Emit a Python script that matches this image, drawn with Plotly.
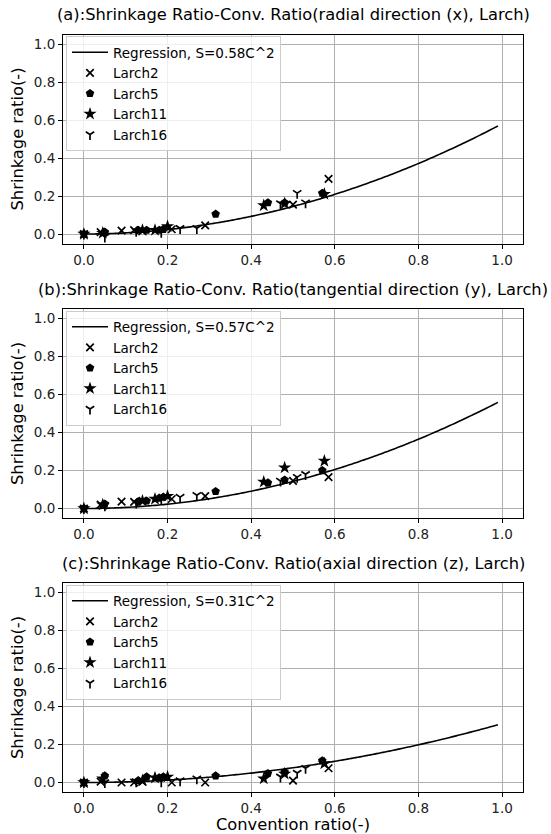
import numpy as np
import plotly.graph_objects as go

FONT = "DejaVu Sans"

titles = [
    "(a):Shrinkage Ratio-Conv. Ratio(radial direction (x), Larch)",
    "(b):Shrinkage Ratio-Conv. Ratio(tangential direction (y), Larch)",
    "(c):Shrinkage Ratio-Conv. Ratio(axial direction (z), Larch)",
]
reg_coef = [0.58, 0.57, 0.31]
reg_x = [i / 100 for i in range(100)]

series_names = ["Larch2", "Larch5", "Larch11", "Larch16"]

larch2_x = [0, 0.04, 0.09, 0.12, 0.14, 0.21, 0.29, 0.50, 0.585]
larch2_y = [
    [0, 0.01, 0.018, 0.02, 0.015, 0.025, 0.045, 0.155, 0.29],
    [0, 0.02, 0.036, 0.035, 0.04, 0.05, 0.065, 0.145, 0.165],
    [0, 0.005, 0.0, 0.0, 0.005, 0.0, 0.0, 0.01, 0.075],
]
larch5_x = [0, 0.05, 0.13, 0.15, 0.18, 0.19, 0.315, 0.44, 0.48, 0.57]
larch5_y = [
    [0, 0.01, 0.02, 0.02, 0.02, 0.025, 0.105, 0.165, 0.165, 0.215],
    [0, 0.024, 0.035, 0.04, 0.055, 0.06, 0.09, 0.135, 0.15, 0.2],
    [0, 0.035, 0.01, 0.03, 0.025, 0.03, 0.035, 0.048, 0.055, 0.115],
]
larch11_x = [0, 0.045, 0.14, 0.17, 0.2, 0.43, 0.48, 0.575]
larch11_y = [
    [0, 0.005, 0.02, 0.02, 0.04, 0.15, 0.16, 0.21],
    [0, 0.02, 0.04, 0.05, 0.065, 0.14, 0.215, 0.25],
    [0, 0.02, 0.01, 0.025, 0.03, 0.02, 0.045, 0.1],
]
larch16_x = [0, 0.05, 0.125, 0.185, 0.23, 0.27, 0.47, 0.51, 0.53]
larch16_y = [
    [0, -0.015, 0.015, 0.01, 0.03, 0.03, 0.16, 0.215, 0.165],
    [0, 0.015, 0.03, 0.05, 0.06, 0.07, 0.145, 0.165, 0.18],
    [0, 0.0, 0.005, 0.005, 0.01, 0.02, 0.03, 0.05, 0.075],
]
tick_vals = [0.0, 0.2, 0.4, 0.6, 0.8, 1.0]
tick_text = ["0.0", "0.2", "0.4", "0.6", "0.8", "1.0"]

series_x = [larch2_x, larch5_x, larch11_x, larch16_x]
series_y = [larch2_y, larch5_y, larch11_y, larch16_y]
symbols = ["x-thin", "pentagon", "star", "y-down"]
sizes = [7.5, 9, 10, 7]

W, H = 551, 834
boxes = [(34.5, 243.5), (309, 518), (583, 792)]
left_px, right_px = 63, 523

fig = go.Figure()
layout = dict(
    width=W, height=H,
    margin=dict(l=0, r=0, t=0, b=0),
    paper_bgcolor="white", plot_bgcolor="white",
    font=dict(family=FONT, color="black", size=13.5),
    showlegend=True,
)
annotations = []
for k in range(3):
    xa = "x" if k == 0 else f"x{k+1}"
    ya = "y" if k == 0 else f"y{k+1}"
    lg = "legend" if k == 0 else f"legend{k+1}"
    top, bot = boxes[k]
    fig.add_trace(go.Scatter(
        x=reg_x, y=[reg_coef[k] * v * v for v in reg_x], mode="lines",
        line=dict(color="black", width=1.6, shape="spline"),
        name=f"Regression, S={reg_coef[k]:.2f}C^2",
        xaxis=xa, yaxis=ya, legend=lg,
    ))
    for s in range(4):
        line_marker = symbols[s] in ("x-thin", "y-down")
        fig.add_trace(go.Scatter(
            x=series_x[s], y=series_y[s][k], mode="markers",
            name=series_names[s],
            marker=dict(symbol=symbols[s], size=sizes[s],
                        color="black",
                        line=dict(color="black", width=1.7 if line_marker else 0)),
            xaxis=xa, yaxis=ya, legend=lg,
        ))
    axis_common = dict(
        showline=True, mirror=True, linecolor="black", linewidth=1,
        ticks="outside", ticklen=4, tickcolor="black", tickwidth=1,
        showgrid=True, gridcolor="#b0b0b0", gridwidth=0.8, zeroline=False,
        tickvals=tick_vals, ticktext=tick_text,
        tickfont=dict(size=13.5, family=FONT, color="#222"),
    )
    xkey = "xaxis" if k == 0 else f"xaxis{k+1}"
    ykey = "yaxis" if k == 0 else f"yaxis{k+1}"
    layout[xkey] = dict(
        axis_common, range=[-0.05, 1.05],
        domain=[left_px / W, right_px / W],
        anchor=ya,
    )
    if k == 2:
        layout[xkey]["title"] = dict(text="Convention ratio(-)",
                                     font=dict(size=16.3, family=FONT), standoff=2)
    layout[ykey] = dict(
        axis_common, range=[-0.05, 1.05],
        domain=[1 - bot / H, 1 - top / H],
        anchor=xa,
        title=dict(text="Shrinkage ratio(-)", font=dict(size=16.3, family=FONT), standoff=6),
    )
    layout[lg] = dict(
        x=66 / W, y=1 - (top + 1.5) / H, xanchor="left", yanchor="top",
        bgcolor="rgba(255,255,255,0.8)", bordercolor="#cccccc", borderwidth=1,
        font=dict(size=13.5, family=FONT),
        tracegroupgap=0, itemwidth=36,
    )
    annotations.append(dict(
        text=titles[k], x=(left_px + right_px) / 2 / W, y=1 - (top - 20) / H,
        xref="paper", yref="paper", xanchor="center", yanchor="middle",
        showarrow=False, font=dict(size=16.3, family=FONT, color="black"),
    ))
layout["annotations"] = annotations
fig.update_layout(**layout)
fig.write_html("out.html")
